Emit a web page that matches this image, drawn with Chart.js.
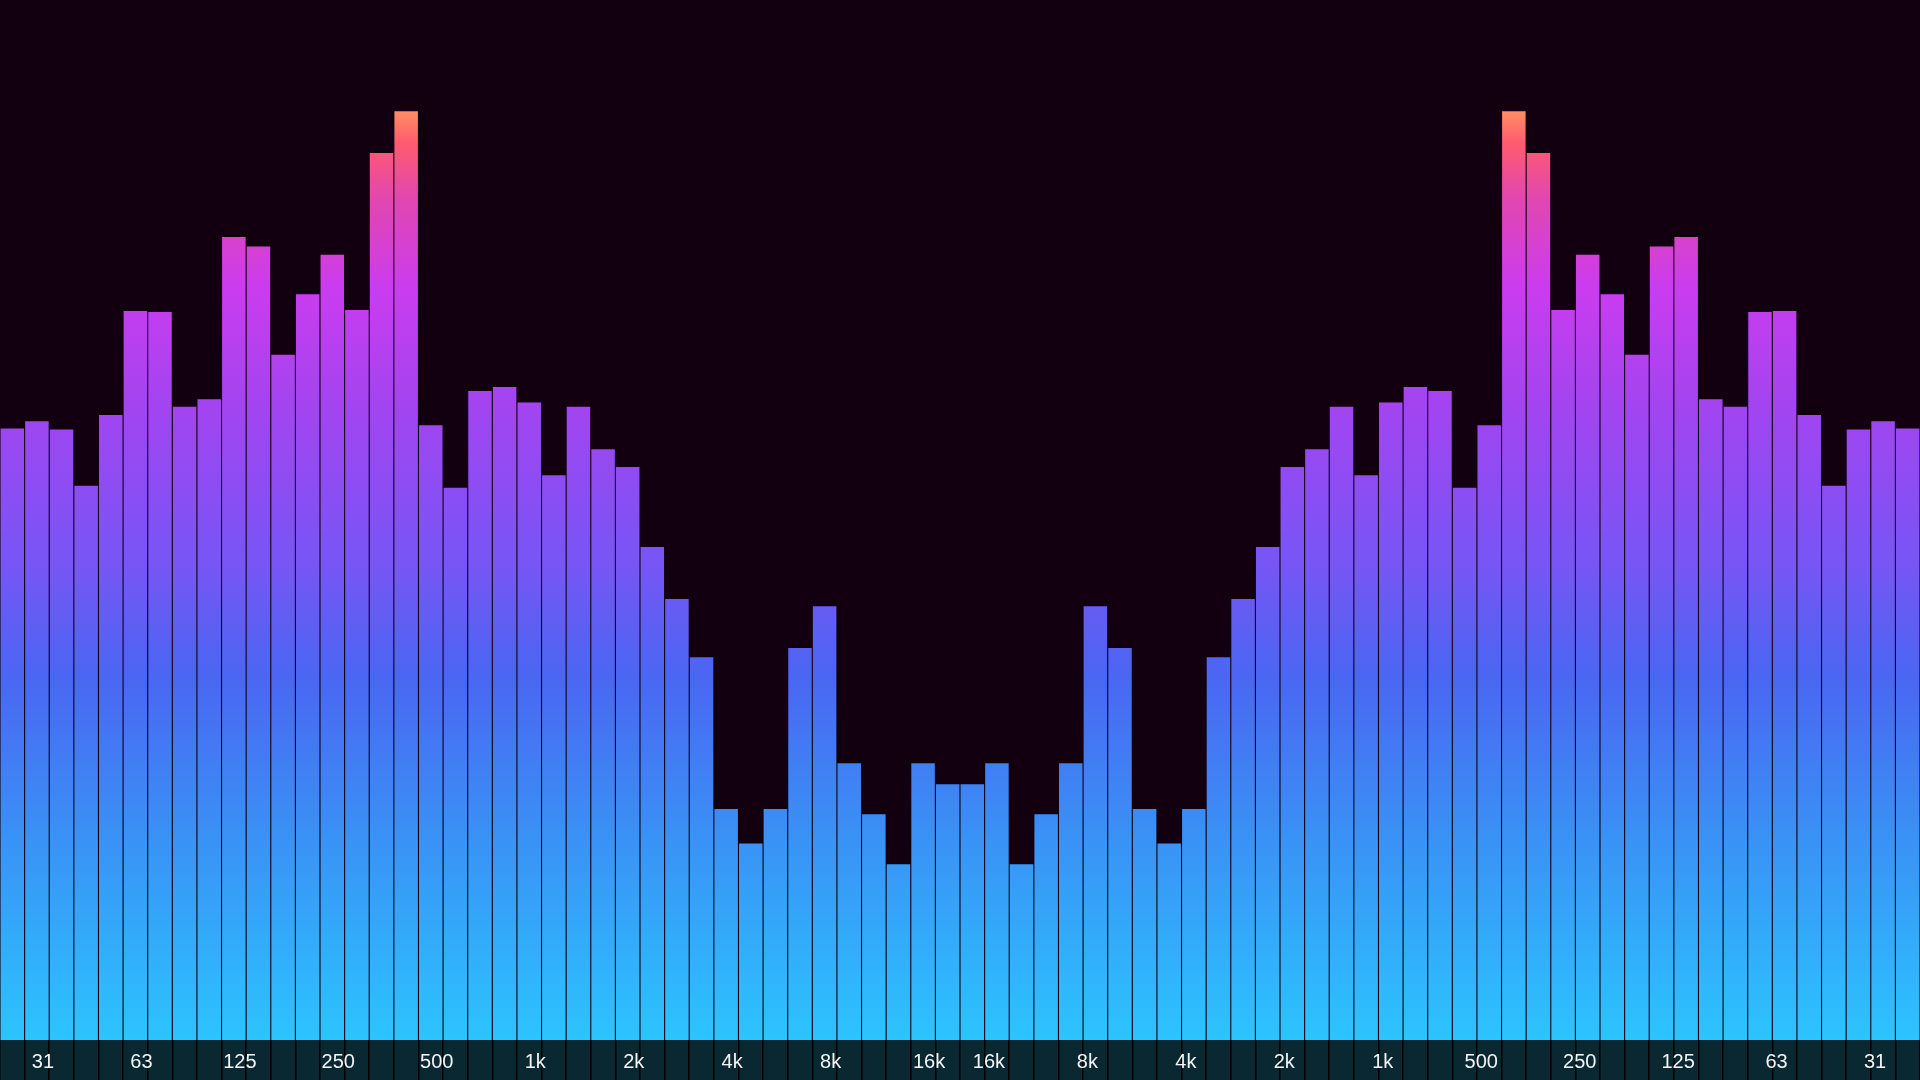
<!DOCTYPE html>
<html>
<head>
<meta charset="utf-8">
<style>
  html, body { margin: 0; padding: 0; background: #120010; overflow: hidden; }
  #wrap { width: 1920px; height: 1080px; position: relative; }
</style>
<script src="https://cdn.jsdelivr.net/npm/chart.js@4/dist/chart.umd.min.js"></script>
</head>
<body>
<div id="wrap"><canvas id="c"></canvas></div>
<script>
// Band labels for one half (low -> high frequency); '' = unlabeled band
const bandLabels = ['', '31', '', '', '', '63', '', '', '', '125', '', '', '', '250', '', '', '', '500', '', '',
                    '', '1k', '', '', '', '2k', '', '', '', '4k', '', '', '', '8k', '', '', '', '16k', ''];
// Level of each band (0-100), low -> high frequency
const levels = [58.8, 59.5, 58.7, 53.3, 60.1, 70.1, 70.0, 60.9, 61.6, 77.2,
                76.3, 65.9, 71.7, 75.5, 70.2, 85.3, 89.3, 59.1, 53.1, 62.4,
                62.8, 61.3, 54.3, 60.9, 56.8, 55.1, 47.4, 42.4, 36.8, 22.2,
                18.9, 22.2, 37.7, 41.7, 26.6, 21.7, 16.9, 26.6, 24.6];

// Mirrored display: left half ascending, right half descending
const categories = bandLabels.concat(bandLabels.slice().reverse());
const values = levels.concat(levels.slice().reverse());
const half = bandLabels.length;

let gradCache = null;
function barGradient(ctx) {
  const chart = ctx.chart;
  const area = chart.chartArea;
  if (!area) return '#7855f5';
  const key = area.top + ':' + area.bottom;
  if (gradCache && gradCache.key === key) return gradCache.g;
  const g = chart.ctx.createLinearGradient(0, area.bottom, 0, area.top);
  g.addColorStop(0.00, '#2cc4ff');
  g.addColorStop(0.20, '#3a90f5');
  g.addColorStop(0.35, '#4a66f2');
  g.addColorStop(0.46, '#7855f5');
  g.addColorStop(0.615, '#a444f0');
  g.addColorStop(0.725, '#cb3cef');
  g.addColorStop(0.81, '#e247ae');
  g.addColorStop(0.862, '#ff5a70');
  g.addColorStop(0.90, '#ff9a60');
  g.addColorStop(1.00, '#ffb060');
  gradCache = { key, g };
  return g;
}

const bgPlugin = {
  id: 'bg',
  beforeDraw(chart) {
    const { ctx, width, height, chartArea } = chart;
    ctx.save();
    ctx.fillStyle = '#120010';
    ctx.fillRect(0, 0, width, height);
    ctx.fillStyle = '#0a2832';
    ctx.fillRect(0, chartArea.bottom, width, height - chartArea.bottom);
    ctx.restore();
  }
};

const labelFont = { family: '"Liberation Sans", Arial, sans-serif', size: 20 };

new Chart(document.getElementById('c'), {
  type: 'bar',
  data: {
    labels: categories,
    datasets: [{
      data: values,
      backgroundColor: barGradient,
      borderWidth: 0,
      barPercentage: 0.955,
      categoryPercentage: 1.0
    }]
  },
  options: {
    responsive: true,
    maintainAspectRatio: false,
    animation: false,
    layout: { padding: 0 },
    plugins: { legend: { display: false }, tooltip: { enabled: false } },
    scales: {
      x: {
        type: 'category',
        position: 'bottom',
        weight: 0,
        offset: true,
        grid: { display: true, offset: true, drawOnChartArea: false, drawTicks: true,
                tickLength: 40, color: '#000000', lineWidth: 1.5 },
        border: { display: false },
        ticks: {
          autoSkip: false, maxRotation: 0, minRotation: 0,
          padding: -30, labelOffset: 6,
          color: '#f2f4f5', font: labelFont,
          callback: function (v, i) { return i < half ? this.getLabelForValue(v) : ''; }
        },
        afterFit: (s) => { s.height = 40; }
      },
      x2: {
        type: 'category',
        position: 'bottom',
        weight: -1,
        offset: true,
        grid: { display: false, drawTicks: false, offset: true },
        border: { display: false },
        ticks: {
          autoSkip: false, maxRotation: 0, minRotation: 0,
          mirror: true,
          padding: -34, labelOffset: -8,
          color: '#f2f4f5', font: labelFont,
          callback: function (v, i) { return i >= half ? this.getLabelForValue(v) : ''; }
        },
        afterFit: (s) => { s.height = 0; }
      },
      y: {
        display: false,
        min: 0,
        max: 100,
        grid: { display: false }
      }
    }
  },
  plugins: [bgPlugin]
});
</script>
</body>
</html>
